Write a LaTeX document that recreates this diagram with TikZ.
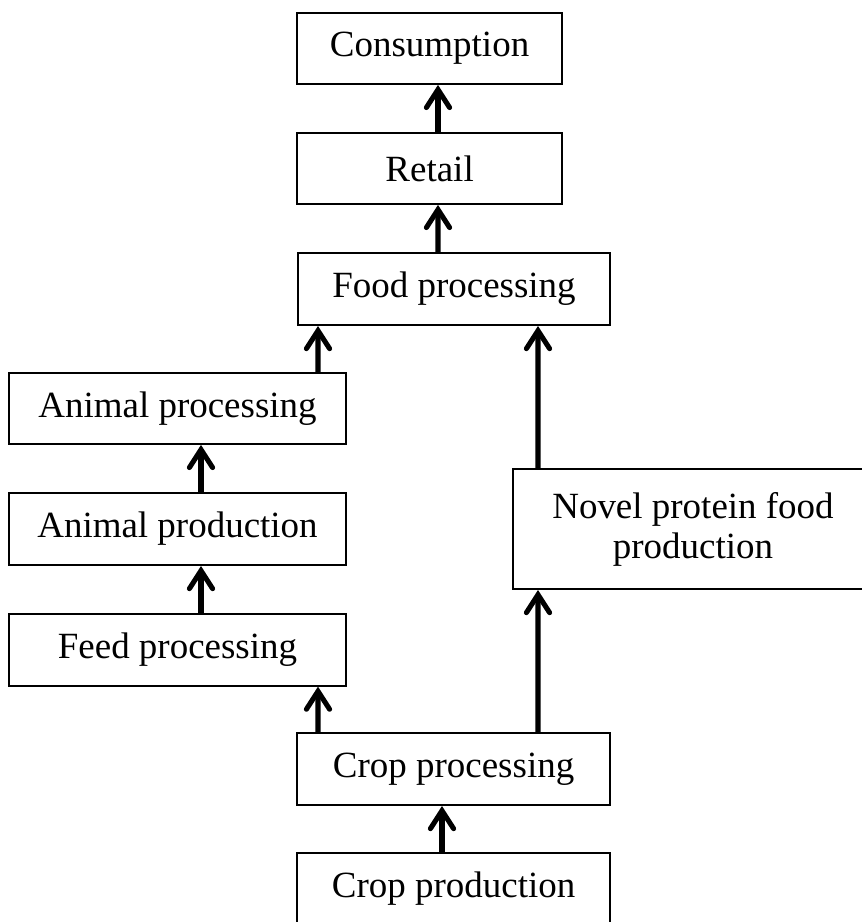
\documentclass[tikz,border=0pt]{standalone}
\usepackage{fontspec}
\setmainfont{Liberation Serif}
\usetikzlibrary{arrows.meta,positioning}

\begin{document}
\begin{tikzpicture}[x=1cm,y=1cm,font=\fontsize{26.3}{28.5}\selectfont,
   stage/.style={rectangle, draw=black, line width=1.4pt, minimum height=1.8cm, align=center, inner sep=0pt},
   flow/.style={line width=3.6pt, -{Straight Barb[length=0.45cm, width=0.58cm, line cap=round]}}]

      \useasboundingbox (0, 0) rectangle (21.55, -23.05);
   %   \draw[help lines] (0, -23) grid (22, 0);

      \node [stage, minimum width=6.625cm, minimum height=1.775cm] (consumption) at (10.74, -1.21) {Consumption};
      \node [stage, minimum width=6.625cm, minimum height=1.775cm] (retail) at (10.74, -4.21) {Retail};
      \node [stage, minimum width=7.8cm] (foodproc) at (11.35, -7.225) {Food processing};

      \node [stage, minimum width=8.425cm, minimum height=1.775cm] (animalproc) at (4.4375, -10.21) {Animal processing};
      \node [stage, minimum width=8.425cm] (animalprod) at (4.4375, -13.225) {Animal production};
      \node [stage, minimum width=8.425cm] (feedproc) at (4.4375, -16.24) {Feed processing};

      \node [stage, minimum width=9cm, minimum height=3cm] (novel) at (17.325, -13.225) {Novel protein food\\production};

      \node [stage, minimum width=7.825cm] (cropproc) at (11.34, -19.225) {Crop processing};
      \node [stage, minimum width=7.825cm] (cropprod) at (11.34, -22.225) {Crop production};


      \draw [flow] ([xshift=0.21cm]retail.north) -- ([xshift=0.21cm]consumption.south);
      \draw [flow] ([xshift=-0.4cm]foodproc.north) -- ([xshift=0.21cm]retail.south);
      \draw [flow] ([xshift=3.5125cm]animalproc.north) -- ([xshift=-3.4cm]foodproc.south);
      \draw [flow] ([xshift=-3.875cm]novel.north) -- ([xshift=2.1cm]foodproc.south);
      \draw [flow] ([xshift=0.5875cm]animalprod.north) -- ([xshift=0.5875cm]animalproc.south);
      \draw [flow] ([xshift=0.5875cm]feedproc.north) -- ([xshift=0.5875cm]animalprod.south);
      \draw [flow] ([xshift=-3.39cm]cropproc.north) -- ([xshift=3.5125cm]feedproc.south);
      \draw [flow] ([xshift=2.11cm]cropproc.north) -- ([xshift=-3.875cm]novel.south);
      \draw [flow] ([xshift=-0.29cm]cropprod.north) -- ([xshift=-0.29cm]cropproc.south);

    \end{tikzpicture}
\end{document}
